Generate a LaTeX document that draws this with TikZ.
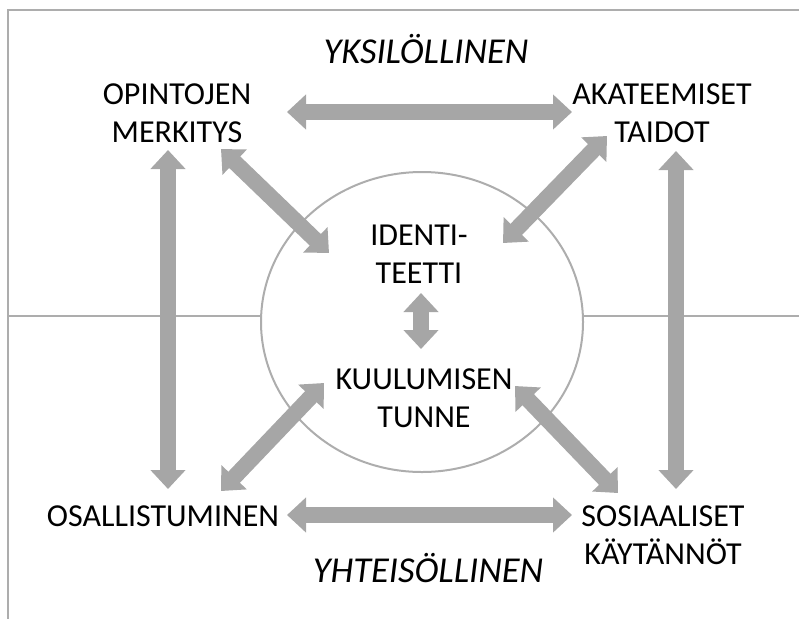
\documentclass[tikz,border=0pt]{standalone}
\usepackage{fontspec}
\setmainfont{Carlito}
\usetikzlibrary{arrows.meta}
\definecolor{arrgray}{HTML}{A6A6A6}
\definecolor{linegray}{HTML}{ADADAD}
\tikzset{
  lbl/.style={align=center,inner sep=0pt,font=\fontsize{32}{38}\selectfont},
  ttl/.style={inner sep=0pt,font=\fontsize{36.5}{40}\selectfont\itshape},
  dbl/.style={arrgray,line width=16pt,
    {Triangle[length=19pt,width=34pt]}-{Triangle[length=19pt,width=34pt]}}
}
\begin{document}
\begin{tikzpicture}[x=1pt,y=-1pt]
\useasboundingbox (0,0) rectangle (799,619);
\draw[linegray,line width=2pt] (799,10) -- (8,10) -- (8,619); % frame
\draw[linegray,line width=2pt] (8,316) -- (799,316); % middle
\filldraw[linegray,fill=white,line width=2pt] (422,322) ellipse (161 and 150); % circle

\node[ttl] (yks) at (426,49) {YKSILÖLLINEN};
\node[ttl] (yht) at (428,568) {YHTEISÖLLINEN};
\node[lbl] (opin) at (177,113) {OPINTOJEN\\MERKITYS};
\node[lbl] (akat) at (662,113) {AKATEEMISET\\TAIDOT};
\node[lbl] (ident) at (419,254) {IDENTI-\\TEETTI};
\node[lbl] (kuul) at (424,398) {KUULUMISEN\\TUNNE};
\node[lbl] (osal) at (163,516) {OSALLISTUMINEN};
\node[lbl] (sosi) at (663,535) {SOSIAALISET\\KÄYTÄNNÖT};

\coordinate (opin-e) at (287,112);
\coordinate (opin-s) at (168,150);
\coordinate (opin-se) at (221,149);
\coordinate (akat-w) at (572,112);
\coordinate (akat-s) at (676,151);
\coordinate (akat-sw) at (607,136);
\coordinate (ident-nw) at (329,253);
\coordinate (ident-ne) at (503,243);
\coordinate (ident-s) at (421,293);
\coordinate (kuul-n) at (421,349);
\coordinate (kuul-sw) at (324,383);
\coordinate (kuul-se) at (515,386);
\coordinate (osal-n) at (168,489);
\coordinate (osal-ne) at (221,491);
\coordinate (osal-e) at (287,515);
\coordinate (sosi-w) at (572,515);
\coordinate (sosi-n) at (676,489);
\coordinate (sosi-nw) at (618,493);

\draw[dbl] (opin-e) -- (akat-w); % OA
\draw[dbl] (osal-e) -- (sosi-w); % OS
\draw[dbl] (opin-s) -- (osal-n); % OO
\draw[dbl] (akat-s) -- (sosi-n); % AS
\draw[dbl] (opin-se) -- (ident-nw); % OI
\draw[dbl] (akat-sw) -- (ident-ne); % AI
\draw[dbl] (osal-ne) -- (kuul-sw); % OK
\draw[dbl] (sosi-nw) -- (kuul-se); % SK
\draw[dbl] (ident-s) -- (kuul-n); % IK
\end{tikzpicture}
\end{document}
